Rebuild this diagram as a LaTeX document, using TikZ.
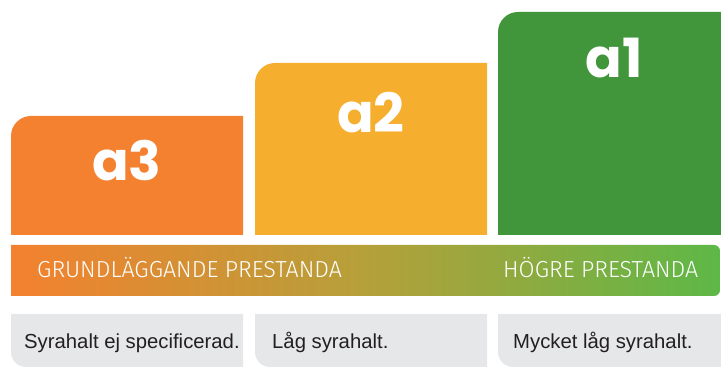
\documentclass[tikz,border=0pt]{standalone}
\usepackage{fontspec}
\setmainfont{Liberation Sans}
\newfontfamily\headfont{Poppins}
\newfontfamily\lightfont{Fira Sans}[UprightFont=* Light]
\definecolor{cAthree}{HTML}{F4812F}
\definecolor{cAtwo}{HTML}{F6AE2F}
\definecolor{cAone}{HTML}{41963B}
\definecolor{cGreen}{HTML}{5DB847}
\definecolor{cMid}{HTML}{B5A03A}
\definecolor{cGray}{HTML}{E6E7E9}
\definecolor{cText}{HTML}{231F20}
\pgfdeclarehorizontalshading{barshade}{100bp}{color(0bp)=(cAthree); color(25bp)=(cAthree); color(50bp)=(cMid); color(75bp)=(cGreen); color(100bp)=(cGreen)}
\tikzset{
  grade/.style={text=white, font=\headfont\bfseries\fontsize{54}{60}\selectfont, inner sep=0pt},
  barlabel/.style={text=white, font=\lightfont\fontsize{23.2}{26}\selectfont, inner sep=0pt, anchor=base west},
  desc/.style={text=cText, font=\fontsize{20.3}{24}\selectfont, inner sep=0pt, anchor=base west},
}
\begin{document}
\begin{tikzpicture}[x=1pt,y=1pt]
\useasboundingbox (0,0) rectangle (721,367);
% grade boxes
\fill[cAthree] (11,132) -- (11,231) arc (180:90:20) -- (243,251) -- (243,132) -- cycle;
\fill[cAtwo] (255,132) -- (255,284) arc (180:90:20) -- (487,304) -- (487,132) -- cycle;
\fill[cAone] (498,132) -- (498,335) arc (180:90:20) -- (721,355) -- (721,132) -- cycle;
\node[grade] (a3) at (127,206) {a3};
\node[grade] (a2) at (371,254) {a2};
\node[grade] (a1) at (614,309) {a1};
% gradient bar
\shade[shading=barshade] (11,71) -- (11,122) -- (714,122) arc (90:0:6) -- (720,77) arc (0:-90:6) -- cycle;
\node[barlabel] (low) at (37,89) {GRUNDLÄGGANDE PRESTANDA};
\node[barlabel] (high) at (503,89) {HÖGRE PRESTANDA};
% description boxes
\fill[cGray] (11,53) -- (243,53) -- (243,0) -- (26,0) arc (270:180:15) -- cycle;
\fill[cGray] (255,53) -- (487,53) -- (487,0) -- (270,0) arc (270:180:15) -- cycle;
\fill[cGray] (498,53) -- (721,53) -- (721,0) -- (513,0) arc (270:180:15) -- cycle;
\node[desc] (d3) at (24,18) {Syrahalt ej specificerad.};
\node[desc] (d2) at (272,18) {Låg syrahalt.};
\node[desc] (d1) at (513,18) {Mycket låg syrahalt.};
\end{tikzpicture}
\end{document}
